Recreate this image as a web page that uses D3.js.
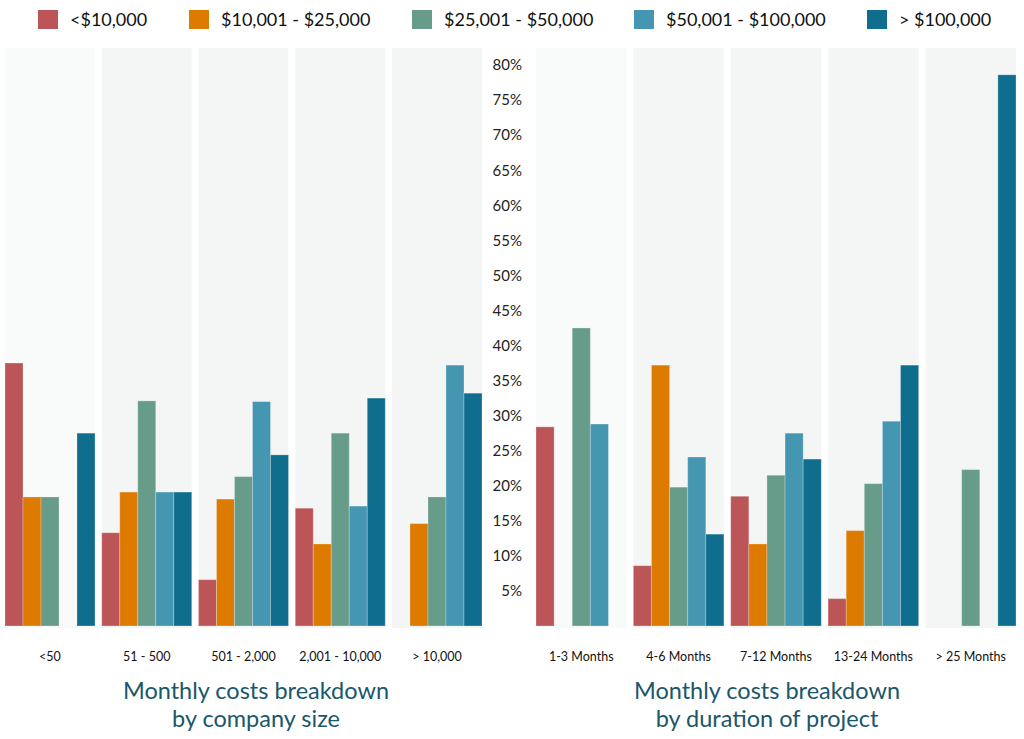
<!DOCTYPE html>
<html>
<head>
<meta charset="utf-8">
<script src="https://cdn.jsdelivr.net/npm/d3@7"></script>
<style>
  body { margin: 0; background: #fff; }
  svg { display: block; font-family: Lato, "Open Sans", sans-serif; }
</style>
</head>
<body>
<svg id="chart"></svg>
<script>
const seriesNames = ["<$10,000", "$10,001 - $25,000", "$25,001 - $50,000", "$50,001 - $100,000", "> $100,000"];
const colors = ["#bb5557", "#dd7a00", "#679c8a", "#4596b1", "#0f6e8d"];

const sizeCategories = ["<50", "51 - 500", "501 - 2,000", "2,001 - 10,000", "> 10,000"];
const durationCategories = ["1-3 Months", "4-6 Months", "7-12 Months", "13-24 Months", "> 25 Months"];

// percent per series, one value per category
const sizeUnder10k = [37.5, 13.3, 6.6, 16.8, 0];
const size10to25k = [18.4, 19.1, 18.1, 11.7, 14.6];
const size25to50k = [18.4, 32.1, 21.3, 27.5, 18.4];
const size50to100k = [0, 19.1, 32.0, 17.1, 37.2];
const sizeOver100k = [27.5, 19.1, 24.4, 32.5, 33.2];

const durUnder10k = [28.4, 8.6, 18.5, 3.9, 0];
const dur10to25k = [0, 37.2, 11.7, 13.6, 0];
const dur25to50k = [42.5, 19.8, 21.5, 20.3, 22.3];
const dur50to100k = [28.8, 24.1, 27.5, 29.2, 0];
const durOver100k = [0, 13.1, 23.8, 37.2, 78.6];

const yTicks = [5, 10, 15, 20, 25, 30, 35, 40, 45, 50, 55, 60, 65, 70, 75, 80];

const wSvg = 1024;
const hSvg = 739;
const baseY = 626;
const legendX = [38, 189, 412, 634, 867];

const svg = d3.select("#chart")
  .attr("width", wSvg)
  .attr("height", hSvg);

const y = d3.scaleLinear()
  .domain([0, 80])
  .range([baseY, 65]);

// legend
const legend = svg.append("g")
  .selectAll("g")
  .data(seriesNames)
  .enter()
  .append("g")
  .attr("transform", (d, i) => `translate(${legendX[i]}, 10)`);

legend.append("rect")
  .attr("width", 20)
  .attr("height", 19)
  .attr("fill", (d, i) => colors[i]);

legend.append("text")
  .attr("x", 32)
  .attr("y", 16)
  .attr("font-size", 18)
  .attr("fill", "#111")
  .text(d => d);

// y axis in the middle
const yAxis = svg.append("g")
  .attr("transform", `translate(522, 0)`)
  .call(d3.axisLeft(y).tickValues(yTicks).tickFormat(d => d + "%").tickSize(0).tickPadding(0));

yAxis.select(".domain").remove();
yAxis.selectAll("text")
  .attr("font-family", "Lato, 'Open Sans', sans-serif")
  .attr("font-size", 15)
  .attr("fill", "#222");

function drawPanel(categories, seriesValues, x0, x1, title, titleX) {
  const xScale = d3.scaleBand()
    .domain(categories)
    .range([x0, x1])
    .paddingInner(0.07);

  const xInner = d3.scaleBand()
    .domain(d3.range(seriesValues.length))
    .range([0, xScale.bandwidth()]);

  const groups = svg.append("g")
    .selectAll("g")
    .data(categories)
    .enter()
    .append("g")
    .attr("transform", d => `translate(${xScale(d)}, 0)`);

  groups.append("rect")
    .attr("x", 0)
    .attr("y", 48)
    .attr("width", xScale.bandwidth())
    .attr("height", baseY + 2 - 48)
    .attr("fill", (d, i) => i === 0 ? "#f9fafa" : "#f4f6f6");

  groups.selectAll(".bar")
    .data((d, ci) => seriesValues.map((vals, si) => ({ s: si, v: vals[ci] })))
    .enter()
    .append("rect")
    .attr("class", "bar")
    .attr("x", d => xInner(d.s))
    .attr("y", d => y(d.v))
    .attr("width", xInner.bandwidth())
    .attr("height", d => baseY - y(d.v))
    .attr("fill", d => colors[d.s])
    .attr("stroke", "#ffffff")
    .attr("stroke-opacity", d => d.v > 0 ? 0.25 : 0)
    .attr("stroke-width", 1);

  groups.append("text")
    .attr("x", xScale.bandwidth() / 2)
    .attr("y", 661)
    .attr("text-anchor", "middle")
    .attr("font-size", 12.5)
    .attr("fill", "#111")
    .text(d => d);

  svg.append("text")
    .attr("x", titleX)
    .attr("y", 699)
    .attr("text-anchor", "middle")
    .attr("font-size", 23.5)
    .attr("fill", "#1a576b")
    .text(title[0]);

  svg.append("text")
    .attr("x", titleX)
    .attr("y", 727)
    .attr("text-anchor", "middle")
    .attr("font-size", 23.5)
    .attr("fill", "#1a576b")
    .text(title[1]);
}

drawPanel(sizeCategories,
  [sizeUnder10k, size10to25k, size25to50k, size50to100k, sizeOver100k],
  5, 482, ["Monthly costs breakdown", "by company size"], 256);

drawPanel(durationCategories,
  [durUnder10k, dur10to25k, dur25to50k, dur50to100k, durOver100k],
  536, 1016, ["Monthly costs breakdown", "by duration of project"], 767);
</script>
</body>
</html>
